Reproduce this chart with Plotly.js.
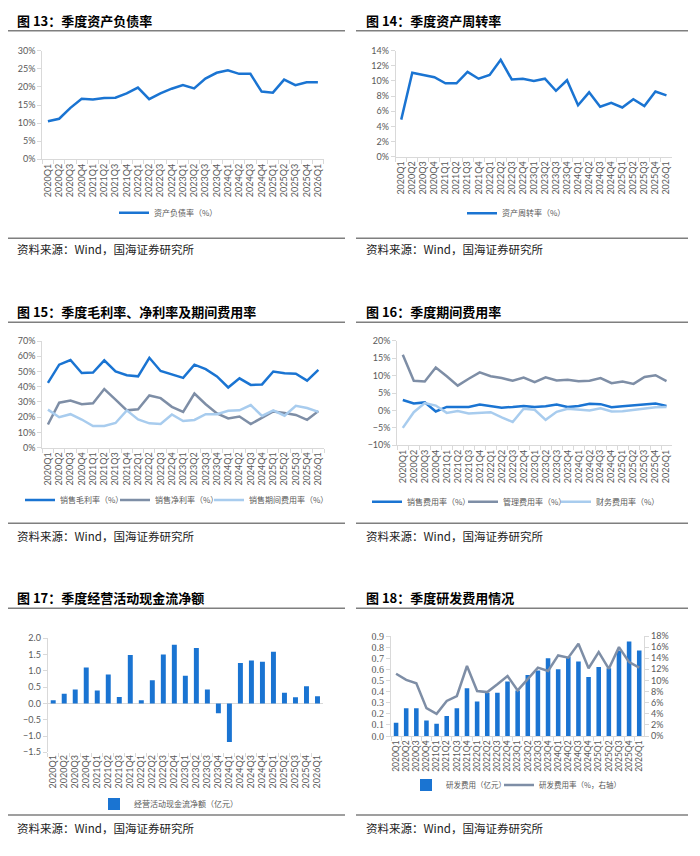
<!DOCTYPE html>
<html>
<head>
<meta charset="utf-8">
<script src="https://cdn.plot.ly/plotly-3.0.1.min.js"></script>
<style>
html,body{margin:0;padding:0;background:#fff;}
#chart{width:700px;height:856px;}
</style>
</head>
<body>
<div id="chart"></div>
<script>
// ---------- DATA ----------
const quarters = ["2020Q1","2020Q2","2020Q3","2020Q4","2021Q1","2021Q2","2021Q3","2021Q4",
  "2022Q1","2022Q2","2022Q3","2022Q4","2023Q1","2023Q2","2023Q3","2023Q4",
  "2024Q1","2024Q2","2024Q3","2024Q4","2025Q1","2025Q2","2025Q3","2025Q4","2026Q1"];

// Fig 13 资产负债率 (%)
const debtRatio = [10.5,11.2,14.2,16.7,16.5,16.9,17.0,18.2,19.8,16.6,18.2,19.5,20.5,19.6,22.3,23.9,24.6,23.6,23.6,18.7,18.4,22.0,20.5,21.3,21.3];
// Fig 14 资产周转率 (%)
const assetTurnover = [4.9,11.1,10.8,10.5,9.7,9.7,11.2,10.3,10.8,12.8,10.2,10.3,10.0,10.3,8.7,10.1,6.8,8.5,6.6,7.1,6.5,7.6,6.7,8.6,8.1];
// Fig 15
const grossMargin = [42.5,54.5,57.5,49.0,49.3,57.3,50.0,47.5,46.8,59.0,50.3,47.8,45.8,54.5,51.5,46.8,39.5,45.5,41.2,41.5,50.0,48.8,48.5,44.0,51.0];
const netMargin = [15.2,29.5,31.0,28.5,29.2,38.5,31.5,24.5,25.2,34.3,32.5,26.8,23.5,35.5,28.5,22.5,19.2,20.5,15.5,19.5,23.8,22.8,21.5,18.3,24.0];
const periodExpenseRate = [25.0,20.0,22.0,18.5,14.2,14.2,16.2,24.5,18.5,16.0,15.5,21.8,17.5,18.2,22.0,22.0,24.2,24.5,28.0,20.8,24.5,21.0,27.5,26.0,23.5];
// Fig 16
const salesExpenseRate = [3.0,2.0,2.3,-0.3,1.0,1.0,1.0,1.7,1.3,0.8,1.0,1.3,1.0,1.2,1.7,1.0,1.3,1.9,1.8,0.9,1.2,1.4,1.6,2.0,1.3];
const adminExpenseRate = [16.0,8.5,8.3,12.3,9.8,7.1,9.1,10.9,9.8,9.3,8.5,9.4,8.1,9.5,8.6,8.8,8.4,8.5,9.3,7.8,8.3,7.6,9.6,10.1,8.4];
const financeExpenseRate = [-5.0,-0.5,2.1,1.4,-0.7,-0.2,-0.9,-0.6,-0.5,-2.0,-3.3,0.5,0.2,-2.7,-0.4,0.5,0.2,0.0,0.6,-0.3,-0.2,0.2,0.5,0.9,1.0];
// Fig 17 经营活动现金流净额 (亿元)
const operatingCashFlow = [0.10,0.30,0.43,1.10,0.40,0.89,0.20,1.49,0.10,0.71,1.50,1.80,0.85,1.70,0.43,-0.30,-1.18,1.24,1.32,1.28,1.59,0.33,0.19,0.53,0.22];
// Fig 18
const rdExpense = [0.12,0.25,0.25,0.14,0.11,0.18,0.25,0.43,0.31,0.39,0.39,0.49,0.41,0.55,0.59,0.70,0.60,0.71,0.67,0.53,0.62,0.61,0.77,0.85,0.77];
const rdExpenseRate = [11.2,10.1,9.5,5.0,4.0,6.3,7.2,12.6,8.1,7.9,9.3,10.8,8.2,10.2,12.3,11.7,14.5,14.1,16.6,12.2,15.1,12.1,16.0,13.3,12.3];

const panelTitles = ["图 13：季度资产负债率","图 14：季度资产周转率","图 15：季度毛利率、净利率及期间费用率",
  "图 16：季度期间费用率","图 17：季度经营活动现金流净额","图 18：季度研发费用情况"];
const sourceText = "资料来源：Wind，国海证券研究所";

// ---------- STYLE ----------
const W = 700, H = 856;
const px = v => v / W;
const py = v => 1 - v / H;
const BLUE = "#1A74D2", GRAY = "#7E8EA6", LIGHT = "#A8CCEE";
const TICKFONT = {family: "Lato, 'Liberation Sans', sans-serif", size: 9, color: "#595959"};
const AX = "#D9D9D9";

function xAxis(l, r, anchor, fontSize) {
  return {domain: [px(l), px(r)], anchor: anchor, type: "category", range: [-0.5, 24.5],
    tickmode: "array", tickvals: quarters, ticktext: quarters,
    tickangle: -90, tickfont: Object.assign({}, TICKFONT, fontSize ? {size: fontSize} : {}),
    showline: true, linecolor: AX, linewidth: 1,
    ticks: "outside", ticklen: 4, tickcolor: AX, tickson: "boundaries", showgrid: false,
    zeroline: false, fixedrange: true, automargin: false};
}
function yAxis(top, bottom, anchor, range, dtick, extra) {
  return Object.assign({domain: [py(bottom), py(top)], anchor: anchor, range: range, dtick: dtick,
    tickfont: TICKFONT, showline: true, linecolor: AX, linewidth: 1, ticks: "outside", ticklen: 4,
    tickcolor: AX, showgrid: false, zeroline: false, fixedrange: true, automargin: false}, extra || {});
}
// one legend per series; textX = pixel x where the legend text starts
function legendAt(textX, yMid, size) {
  return {orientation: "h", x: px(textX - 38), xanchor: "left", y: py(yMid), yanchor: "middle",
    font: {family: "'Noto Sans CJK SC', sans-serif", size: size || 8, color: "#595959"},
    bgcolor: "rgba(0,0,0,0)", itemwidth: 30, tracegroupgap: 0, itemclick: false, itemdoubleclick: false};
}
function line(y, name, color, xa, ya, legend, width) {
  return {type: "scatter", mode: "lines", x: quarters, y: y, name: name, xaxis: xa, yaxis: ya,
    legend: legend, line: {color: color, width: width || 2.5}, hoverinfo: "skip"};
}

const traces = [
  line(debtRatio, "资产负债率（%）", BLUE, "x", "y", "legend"),
  line(assetTurnover, "资产周转率（%）", BLUE, "x2", "y2", "legend2"),
  line(grossMargin, "销售毛利率（%）", BLUE, "x3", "y3", "legend3"),
  line(netMargin, "销售净利率（%）", GRAY, "x3", "y3", "legend4"),
  line(periodExpenseRate, "销售期间费用率（%）", LIGHT, "x3", "y3", "legend5"),
  line(salesExpenseRate, "销售费用率（%）", BLUE, "x4", "y4", "legend6"),
  line(adminExpenseRate, "管理费用率（%）", GRAY, "x4", "y4", "legend7"),
  line(financeExpenseRate, "财务费用率（%）", LIGHT, "x4", "y4", "legend8"),
  {type: "bar", x: quarters, y: operatingCashFlow, name: "经营活动现金流净额（亿元）", xaxis: "x5", yaxis: "y5",
    legend: "legend9", marker: {color: BLUE}, hoverinfo: "skip"},
  {type: "bar", x: quarters, y: rdExpense, name: "研发费用（亿元）", xaxis: "x6", yaxis: "y6",
    legend: "legend10", marker: {color: BLUE}, hoverinfo: "skip"},
  line(rdExpenseRate, "研发费用率（%，右轴）", GRAY, "x6", "y7", "legend11", 2.5)
];

const layout = {
  width: W, height: H, margin: {l: 0, r: 0, t: 0, b: 0}, paper_bgcolor: "#fff", plot_bgcolor: "#fff",
  showlegend: true, bargap: 0.55,
  xaxis: xAxis(42.3, 323.5, "y"),
  yaxis: yAxis(50.7, 159.3, "x", [0, 30], 5, {ticksuffix: "%"}),
  xaxis2: xAxis(395.7, 672, "y2"),
  yaxis2: yAxis(50.7, 156.7, "x2", [0, 14], 2, {ticksuffix: "%"}),
  xaxis3: xAxis(42.3, 324, "y3"),
  yaxis3: yAxis(341, 447.7, "x3", [0, 70], 10, {ticksuffix: "%"}),
  xaxis4: xAxis(397.3, 672, "y4"),
  yaxis4: yAxis(340.7, 445.3, "x4", [-10, 20], 5, {ticksuffix: "%"}),
  xaxis5: Object.assign(xAxis(47.7, 323, "y5"), {showline: false}),
  yaxis5: yAxis(638.3, 752.3, "x5", [-1.5, 2.0], 0.5, {tickformat: ".1f", zeroline: true, zerolinecolor: AX, zerolinewidth: 1}),
  xaxis6: xAxis(391, 644.3, "y6", 8.5),
  yaxis6: yAxis(636, 736, "x6", [0, 0.9], 0.1, {tickformat: ".1f",
    tickfont: {family: "'Liberation Serif', serif", size: 10, color: "#595959"}}),
  yaxis7: Object.assign(yAxis(636, 736, "x6", [0, 18], 2, {ticksuffix: "%"}), {overlaying: "y6", side: "right"}),
  legend: legendAt(152, 212.7),
  legend2: legendAt(500, 213.3),
  legend3: legendAt(58, 500),
  legend4: legendAt(153, 500),
  legend5: legendAt(247, 500),
  legend6: legendAt(405, 501.7),
  legend7: legendAt(501, 501.7),
  legend8: legendAt(594, 501.7),
  legend9: legendAt(132, 804),
  legend10: legendAt(444, 785, 7.5),
  legend11: legendAt(537, 785, 7.5),
  annotations: [],
  shapes: []
};

// panel frames: titles, rules, source lines
const panels = [
  {x: 15, ty: 20.7, rl: 8, rr: 345, rt: 30.7, rb: 238.3, sy: 248.5},
  {x: 364, ty: 20.7, rl: 356, rr: 688, rt: 30.7, rb: 238.3, sy: 248.5},
  {x: 15, ty: 311.7, rl: 8, rr: 345, rt: 322.3, rb: 523.3, sy: 535.7},
  {x: 364, ty: 311.7, rl: 356, rr: 688, rt: 322.3, rb: 523.3, sy: 535.7},
  {x: 15, ty: 597.3, rl: 8, rr: 345, rt: 608.3, rb: 815, sy: 828.3},
  {x: 364, ty: 597.3, rl: 356, rr: 688, rt: 608.3, rb: 815, sy: 828.3}
];
panels.forEach((p, i) => {
  layout.annotations.push({xref: "paper", yref: "paper", x: px(p.x), y: py(p.ty), xanchor: "left", yanchor: "middle",
    text: "<b>" + panelTitles[i] + "</b>", showarrow: false,
    font: {family: "'Noto Sans CJK SC', sans-serif", size: 13, color: "#000"}});
  layout.annotations.push({xref: "paper", yref: "paper", x: px(p.x), y: py(p.sy), xanchor: "left", yanchor: "middle",
    text: sourceText, showarrow: false,
    font: {family: "'Noto Sans CJK SC', sans-serif", size: 11.5, color: "#222"}});
  layout.shapes.push({type: "line", xref: "paper", yref: "paper", x0: px(p.rl), x1: px(p.rr), y0: py(p.rt), y1: py(p.rt),
    line: {color: "#7F7F7F", width: 1.5}});
  layout.shapes.push({type: "line", xref: "paper", yref: "paper", x0: px(p.rl), x1: px(p.rr), y0: py(p.rb), y1: py(p.rb),
    line: {color: "#7F7F7F", width: 1.5}});
});

Plotly.newPlot("chart", traces, layout, {staticPlot: true, displayModeBar: false});
</script>
</body>
</html>
